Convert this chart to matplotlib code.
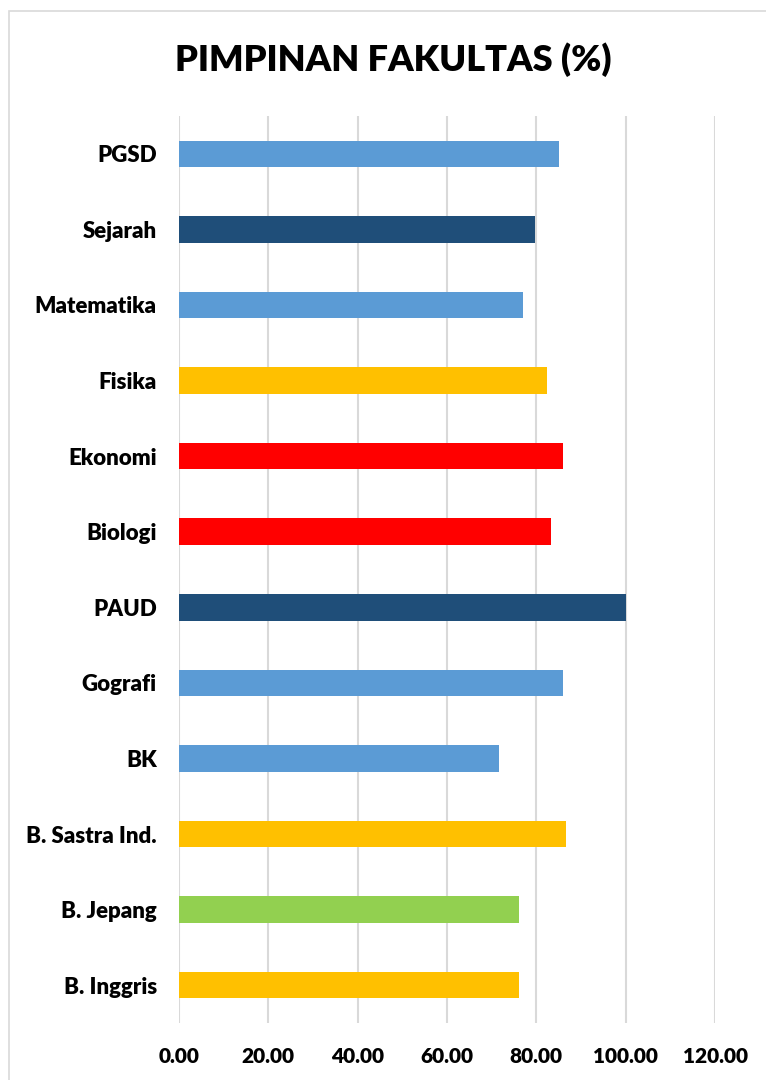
import matplotlib
matplotlib.use("Agg")
import matplotlib.pyplot as plt
from matplotlib.patches import Rectangle

plt.rcParams['font.family'] = ['Lato', 'DejaVu Sans']

# programmes, top to bottom as drawn
PRODI = ["PGSD", "Sejarah", "Matematika", "Fisika", "Ekonomi", "Biologi",
         "PAUD", "Gografi", "BK", "B. Sastra Ind.", "B. Jepang", "B. Inggris"]
NILAI = [85.0, 79.6, 77.1, 82.3, 85.9, 83.2, 100.0, 85.9, 71.6, 86.6, 76.2, 76.2]
WARNA = ["#5B9BD5", "#1F4E79", "#5B9BD5", "#FFC000", "#FF0000", "#FF0000",
         "#1F4E79", "#5B9BD5", "#5B9BD5", "#FFC000", "#92D050", "#FFC000"]
XTICKS = [0, 20, 40, 60, 80, 100, 120]

W, H = 766, 1080
fig = plt.figure(figsize=(W / 100, H / 100), dpi=100)

# chart area frame (cut at right/bottom edges)
fig.patches.append(Rectangle((9 / W, -0.1), 1.2, 1.1 - 11 / H,
                             transform=fig.transFigure, fill=False,
                             edgecolor="#D9D9D9", linewidth=1.2))

ax = fig.add_axes([179 / W, 1 - 1023 / H, 536 / W, (1023 - 116) / H])

pos = list(range(len(PRODI)))
ax.barh(pos, NILAI, height=0.35, color=WARNA, zorder=3)

ax.set_ylim(len(PRODI) - 0.5, -0.5)
ax.set_xlim(0, 120)
ax.set_xticks(XTICKS)
ax.set_xticklabels([f"{v:.2f}" for v in XTICKS], fontsize=15, fontweight="heavy")
ax.set_yticks(pos)
ax.set_yticklabels(PRODI, fontsize=16, fontweight="heavy")
ax.tick_params(axis="x", length=0, pad=17)
ax.tick_params(axis="y", length=0, pad=16)

ax.grid(axis="x", color="#D9D9D9", linewidth=1.5, zorder=0)
for s in ax.spines.values():
    s.set_visible(False)

fig.text(393 / W, 1 - 60 / H, "PIMPINAN FAKULTAS (%)", ha="center", va="center",
         fontsize=26, fontweight="heavy")

fig.savefig("out.png", dpi=100)
